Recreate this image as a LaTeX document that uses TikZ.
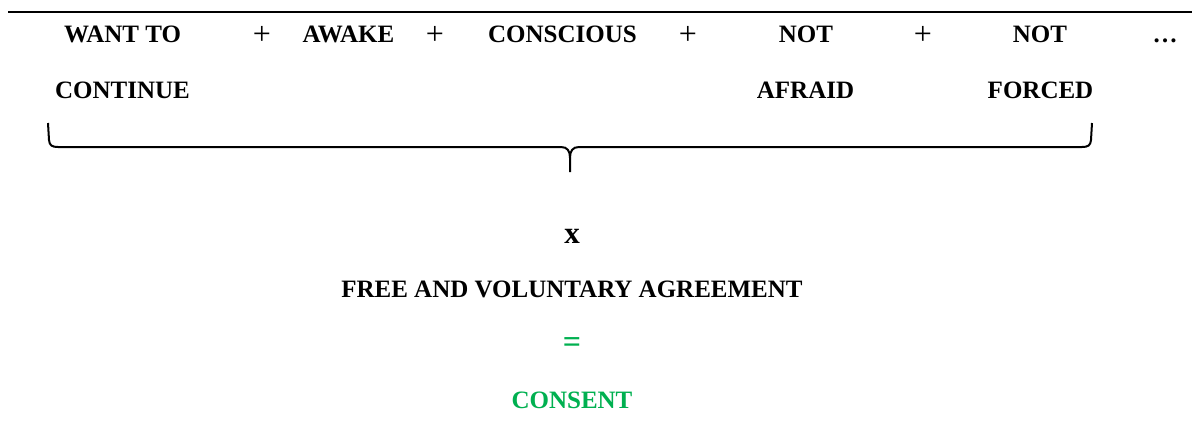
\documentclass[tikz,border=0pt]{standalone}
\usepackage{fontspec}
\setmainfont{Liberation Serif}
\begin{document}
\begin{tikzpicture}[x=1pt,y=-1pt,
  term/.style={inner sep=0pt,anchor=base,font=\fontsize{25}{30}\selectfont\bfseries},
  op/.style={inner sep=0pt,anchor=base,font=\fontsize{32}{36}\selectfont},
  result/.style={term,text=consentgreen},
  rule/.style={line width=2pt},
  bracestroke/.style={line width=2pt,line join=round}]
\definecolor{consentgreen}{RGB}{0,176,80}
\useasboundingbox (0,0) rectangle (1192,431);

% rule across the top
\coordinate (ruleL) at (8,11.5);
\coordinate (ruleR) at (1192,11.5);
\draw[rule] (ruleL) -- (ruleR);

% first row of conditions
\node[term] (want)   at (122.5,42) {WANT TO};
\node[term] (cont)   at (122.5,98) {CONTINUE};
\node[op]   (plusA)  at (262,44.5) {+};
\node[term] (awake)  at (348.5,42) {AWAKE};
\node[op]   (plusB)  at (435,44.5) {+};
\node[term] (consc)  at (562.5,42) {CONSCIOUS};
\node[op]   (plusC)  at (688,44.5) {+};
\node[term] (notA)   at (806,42)   {NOT};
\node[term] (afraid) at (805.5,98) {AFRAID};
\node[op]   (plusD)  at (923,44.5) {+};
\node[term] (notB)   at (1040,42)  {NOT};
\node[term] (forced) at (1040.5,98){FORCED};
\node[term] (more)   at (1165,42)  {…};

% horizontal brace gathering the conditions
\coordinate (braceL)   at (48,123);
\coordinate (braceR)   at (1092,123);
\coordinate (braceTip) at (570,172);
\draw[bracestroke] (braceL) -- (49,140)
  .. controls (49.5,145.5) and (52,147) .. (58,147) -- (561,147)
  .. controls (567.5,147) and (570,151) .. (570,158) -- (braceTip);
\draw[bracestroke] (braceR) -- (1091,140)
  .. controls (1090.5,145.5) and (1088,147) .. (1082,147) -- (579,147)
  .. controls (572.5,147) and (570,151) .. (570,158);

% combination and result
\node[inner sep=0pt,anchor=base,font=\fontsize{31}{36}\selectfont\bfseries] (times) at (572,243) {x};
\node[term] (agree) at (572,297) {FREE AND VOLUNTARY AGREEMENT};
\node[inner sep=0pt,anchor=base,font=\fontsize{32}{36}\selectfont\bfseries,text=consentgreen] (equals) at (572,352) {=};
\node[result] (consent) at (572,408) {CONSENT};
\end{tikzpicture}
\end{document}
